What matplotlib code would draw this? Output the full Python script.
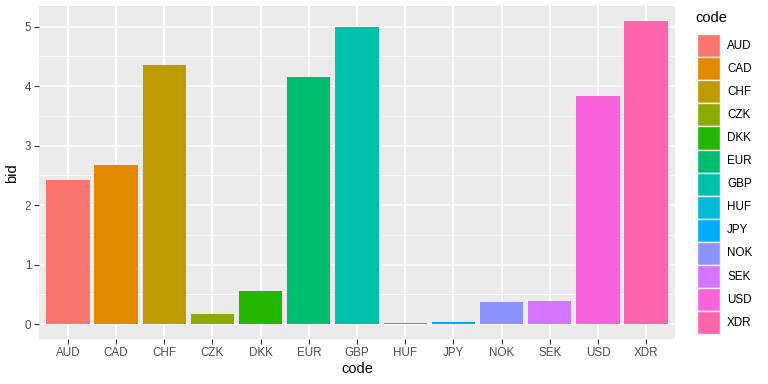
import matplotlib
matplotlib.use("Agg")
import matplotlib.pyplot as plt
from matplotlib.patches import Rectangle
import numpy as np

codes = ["AUD", "CAD", "CHF", "CZK", "DKK", "EUR", "GBP", "HUF", "JPY", "NOK", "SEK", "USD", "XDR"]
bids = [2.43, 2.68, 4.35, 0.17, 0.56, 4.16, 4.99, 0.02, 0.03, 0.37, 0.39, 3.84, 5.09]
colors = ["#F8766D", "#E18A00", "#BE9C00", "#8CAB00", "#24B700", "#00BE70", "#00C1AB",
          "#00BBDA", "#00ACFC", "#8B93FF", "#D575FE", "#F962DD", "#FF65AC"]
yticks = [0, 1, 2, 3, 4, 5]

plt.rcParams['font.family'] = ['Liberation Sans', 'DejaVu Sans']

W, H = 768, 384
fig = plt.figure(figsize=(W / 100, H / 100), dpi=100)
ax = fig.add_axes([39 / W, 1 - 339.4 / H, (675 - 39) / W, (339.4 - 6.2) / H])
ax.set_facecolor("#EBEBEB")
for s in ax.spines.values():
    s.set_visible(False)

x = np.arange(1, len(codes) + 1)
ymax = max(bids)
ax.set_ylim(-0.05 * ymax, ymax * 1.05)
ax.set_xlim(0.4, len(codes) + 0.6)

# grid
for yv in np.arange(0.5, 5.5, 1.0):
    ax.axhline(yv, color="white", lw=0.55, zorder=0)
for yv in yticks:
    ax.axhline(yv, color="white", lw=1.1, zorder=0)
for xv in x:
    ax.axvline(xv, color="white", lw=1.1, zorder=0)

ax.bar(x, bids, width=0.9, color=colors, zorder=2)

ax.set_xticks(x)
ax.set_xticklabels(codes)
ax.set_yticks(yticks)
ax.set_yticklabels([str(v) for v in yticks])
ax.tick_params(axis='both', colors="#333333", labelcolor="#4D4D4D", labelsize=8.4,
               length=3.5, width=0.8, pad=2)
ax.set_xlabel("code", fontsize=10.5, color="black", labelpad=2)
ax.set_ylabel("bid", fontsize=10.5, color="black", labelpad=4)

# legend
fig.text(695 / W, 1 - 18 / H, "code", fontsize=10.5, ha="left", va="center")
key_top = 34
key_h = 23.1
for i, (c, col) in enumerate(zip(codes, colors)):
    top = key_top + i * key_h
    fig.add_artist(Rectangle((697 / W, 1 - (top + key_h) / H), 22.5 / W, key_h / H,
                             transform=fig.transFigure, facecolor=col, edgecolor="#F2F2F2", lw=1.0))
    fig.text(727 / W, 1 - (top + key_h / 2) / H, c, fontsize=8.4, ha="left", va="center", color="black")

fig.savefig("out.png", dpi=100)
